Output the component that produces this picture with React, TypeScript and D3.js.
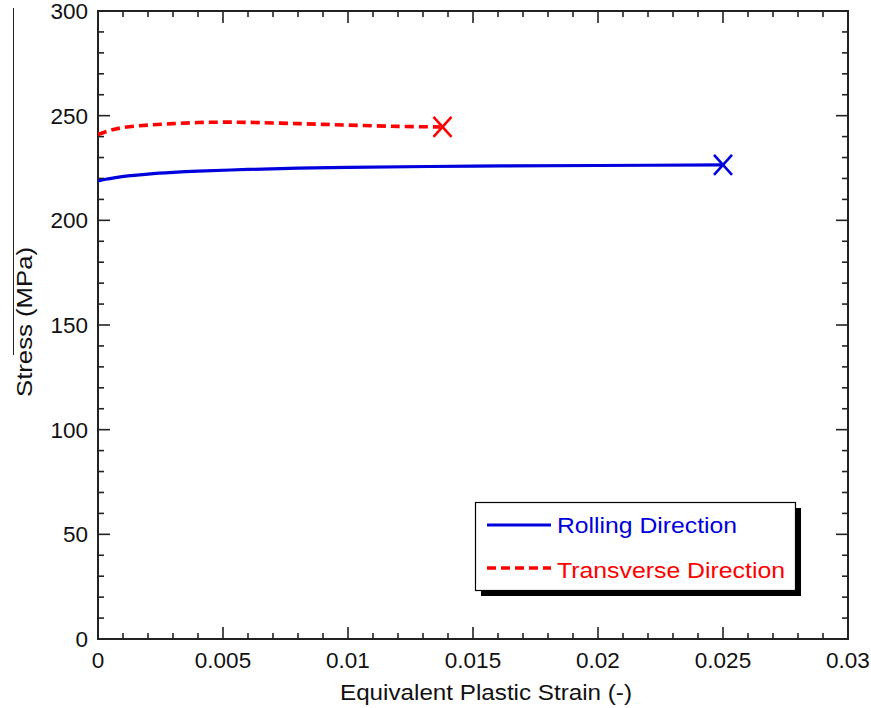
import React, { useRef, useEffect } from 'react';
import * as d3 from 'd3';

// strain (-) and stress (MPa)
const rollingStrain = [0, 0.0003, 0.0007, 0.0012, 0.002, 0.003, 0.004, 0.006, 0.008, 0.01, 0.015, 0.02, 0.025];
const rollingStress = [218.8, 219.6, 220.4, 221.2, 222.1, 222.9, 223.5, 224.3, 224.9, 225.3, 225.9, 226.2, 226.5];

const transverseStrain = [0, 0.0005, 0.001, 0.002, 0.003, 0.004, 0.005, 0.006, 0.008, 0.01, 0.012, 0.0137];
const transverseStress = [241.0, 243.0, 244.3, 245.5, 246.2, 246.7, 246.9, 246.8, 246.2, 245.5, 244.9, 244.6];

const xTicks = [0, 0.005, 0.01, 0.015, 0.02, 0.025, 0.03];
const xTickLabels = ['0', '0.005', '0.01', '0.015', '0.02', '0.025', '0.03'];
const yTicks = [0, 50, 100, 150, 200, 250, 300];

const seriesNames = ['Rolling Direction', 'Transverse Direction'];
const seriesColors = ['#0000dd', '#ff0000'];

const W = 871;
const H = 708;
const FONT = '"Liberation Sans", Arial, sans-serif';

const App: React.FC = () => {
    const svgRef = useRef<SVGSVGElement>(null);

    useEffect(() => {
        if (!svgRef.current) return;
        const svg = d3.select(svgRef.current);
        svg.selectAll('*').remove();

        const left = 98, right = 848, top = 11, bottom = 639;

        const x = d3.scaleLinear().domain([0, 0.03]).range([left, right]);
        const y = d3.scaleLinear().domain([0, 300]).range([bottom, top]);

        // stray rule at far left of the original scan
        svg.append('line')
            .attr('x1', 13.5).attr('x2', 13.5)
            .attr('y1', 8).attr('y2', 355)
            .attr('stroke', '#222').attr('stroke-width', 1);

        const axisColor = '#222';
        const major = 12, minor = 6;

        // ticks, all four sides, pointing inward
        const ticks = svg.append('g').attr('stroke', axisColor).attr('stroke-width', 1.6);
        const xMinor = d3.range(0, 31).map(i => i * 0.001);
        xMinor.forEach((v, i) => {
            const len = i % 5 === 0 ? major : minor;
            const px = x(v);
            ticks.append('line').attr('x1', px).attr('x2', px).attr('y1', bottom).attr('y2', bottom - len);
            ticks.append('line').attr('x1', px).attr('x2', px).attr('y1', top).attr('y2', top + len);
        });
        const yMinor = d3.range(0, 31).map(i => i * 10);
        yMinor.forEach((v, i) => {
            const len = i % 5 === 0 ? major : minor;
            const py = y(v);
            ticks.append('line').attr('x1', left).attr('x2', left + len).attr('y1', py).attr('y2', py);
            ticks.append('line').attr('x1', right).attr('x2', right - len).attr('y1', py).attr('y2', py);
        });

        // frame
        svg.append('rect')
            .attr('x', left).attr('y', top)
            .attr('width', right - left).attr('height', bottom - top)
            .attr('fill', 'none').attr('stroke', axisColor).attr('stroke-width', 2);

        // tick labels
        svg.append('g').selectAll('text')
            .data(xTicks)
            .enter()
            .append('text')
            .attr('x', (d: number) => x(d))
            .attr('y', 668)
            .attr('text-anchor', 'middle')
            .attr('font-family', FONT)
            .attr('font-size', 22.5)
            .attr('fill', '#111')
            .text((d: number, i: number) => xTickLabels[i]);

        svg.append('g').selectAll('text')
            .data(yTicks)
            .enter()
            .append('text')
            .attr('x', 88)
            .attr('y', (d: number) => y(d) + 8)
            .attr('text-anchor', 'end')
            .attr('font-family', FONT)
            .attr('font-size', 22.5)
            .attr('fill', '#111')
            .text((d: number) => String(d));

        // axis titles
        svg.append('text')
            .attr('x', 340).attr('y', 700)
            .attr('font-family', FONT).attr('font-size', 22).attr('fill', '#111')
            .attr('textLength', 292).attr('lengthAdjust', 'spacingAndGlyphs')
            .text('Equivalent Plastic Strain (-)');

        svg.append('text')
            .attr('transform', 'translate(32, 397) rotate(-90)')
            .attr('font-family', FONT).attr('font-size', 22.5).attr('fill', '#111')
            .attr('textLength', 150).attr('lengthAdjust', 'spacingAndGlyphs')
            .text('Stress (MPa)');

        // curves
        const line = d3.line<[number, number]>()
            .x(d => x(d[0]))
            .y(d => y(d[1]))
            .curve(d3.curveCatmullRom);

        const rolling: [number, number][] = rollingStrain.map((s, i) => [s, rollingStress[i]]);
        const transverse: [number, number][] = transverseStrain.map((s, i) => [s, transverseStress[i]]);

        svg.append('path')
            .attr('d', line(rolling))
            .attr('fill', 'none')
            .attr('stroke', seriesColors[0])
            .attr('stroke-width', 3.2);

        svg.append('path')
            .attr('d', line(transverse))
            .attr('fill', 'none')
            .attr('stroke', seriesColors[1])
            .attr('stroke-width', 3.6)
            .attr('stroke-dasharray', '9,5');

        // failure markers
        const cross = (px: number, py: number, color: string) => {
            const hw = 9, hh = 10;
            const g = svg.append('g').attr('stroke', color).attr('stroke-width', 2.6);
            g.append('line').attr('x1', px - hw).attr('y1', py - hh).attr('x2', px + hw).attr('y2', py + hh);
            g.append('line').attr('x1', px - hw).attr('y1', py + hh).attr('x2', px + hw).attr('y2', py - hh);
        };
        const lastR = rolling[rolling.length - 1];
        const lastT = transverse[transverse.length - 1];
        cross(x(lastR[0]), y(lastR[1]), seriesColors[0]);
        cross(x(lastT[0]) + 2, y(lastT[1]), seriesColors[1]);

        // legend
        const lg = svg.append('g');
        lg.append('rect')
            .attr('x', 481).attr('y', 508)
            .attr('width', 320).attr('height', 88)
            .attr('fill', '#000');
        lg.append('rect')
            .attr('x', 475.5).attr('y', 502.5)
            .attr('width', 320).attr('height', 88)
            .attr('fill', '#fff')
            .attr('stroke', '#000')
            .attr('stroke-width', 1.2);

        const legendWidths = [180, 228];
        seriesNames.forEach((name, i) => {
            const ly = 525 + i * 43;
            lg.append('line')
                .attr('x1', 487).attr('x2', 551)
                .attr('y1', ly).attr('y2', ly)
                .attr('stroke', seriesColors[i])
                .attr('stroke-width', i === 0 ? 3.2 : 3.6)
                .attr('stroke-dasharray', i === 0 ? null : '9,5');
            lg.append('text')
                .attr('x', 557).attr('y', ly + 8 + i * 1.5)
                .attr('font-family', FONT)
                .attr('font-size', 21.5)
                .attr('fill', seriesColors[i])
                .attr('textLength', legendWidths[i]).attr('lengthAdjust', 'spacingAndGlyphs')
                .text(name);
        });
    }, []);

    return (
        <svg
            ref={svgRef}
            width={W}
            height={H}
            style={{ position: 'absolute', left: 0, top: 0, background: '#fff' }}
        />
    );
};

export default App;
